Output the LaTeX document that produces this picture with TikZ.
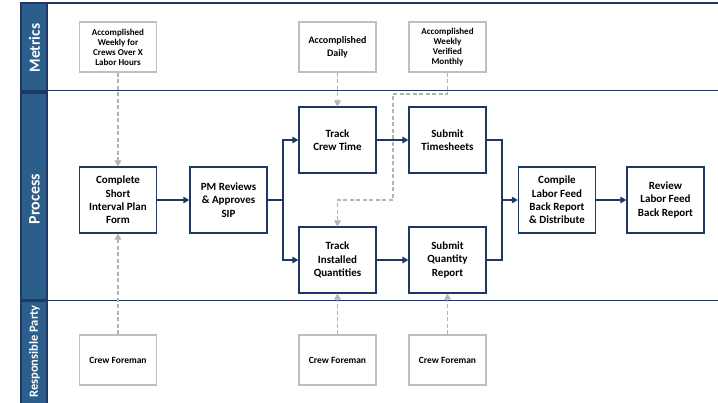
\documentclass[tikz,border=0pt]{standalone}
\usepackage{fontspec}
\setmainfont{Carlito}
\usetikzlibrary{arrows.meta}
\definecolor{navy}{HTML}{1F3864}
\definecolor{side}{HTML}{2B5E8A}
\definecolor{lgray}{HTML}{BFBFBF}
\definecolor{dgray}{HTML}{B4B4B4}
\tikzset{
  band/.style={draw=navy,line width=1.4pt},
  sidebar/.style={draw=navy,fill=side,line width=1.2pt},
  sidetext/.style={text=white,rotate=90,inner sep=0pt},
  metricbox/.style={draw=lgray,line width=1.4pt,fill=white,minimum width=77pt,minimum height=50pt,align=center,font=\bfseries\fontsize{9}{10}\selectfont,inner sep=1pt},
  procbox/.style={draw=navy,line width=1.3pt,fill=white,minimum width=77pt,minimum height=66pt,align=center,font=\bfseries\fontsize{11}{13.3}\selectfont,inner sep=1pt},
  partybox/.style={draw=lgray,line width=1.4pt,fill=white,minimum width=77pt,minimum height=50pt,align=center,font=\bfseries\fontsize{9.5}{11}\selectfont,inner sep=1pt},
  flow/.style={draw=navy,line width=1.4pt,-{Triangle[length=6pt,width=6.5pt]}},
  flowline/.style={draw=navy,line width=1.4pt},
  link/.style={draw=dgray,line width=1.4pt,dash pattern=on 4pt off 2.5pt,-{Triangle[length=6pt,width=7pt]}},
  linkline/.style={draw=dgray,line width=1.4pt,dash pattern=on 4pt off 2.5pt},
}
\begin{document}
\begin{tikzpicture}[x=1pt,y=-1pt]
\useasboundingbox (0,0) rectangle (718,402);
% sidebars
\node[sidebar,minimum width=26pt,minimum height=88pt,inner sep=0pt] (sbm) at (34,47) {};
\node[sidebar,minimum width=26pt,minimum height=207pt,inner sep=0pt] (sbp) at (34,196.5) {};
\node[sidebar,minimum width=26pt,minimum height=104pt,inner sep=0pt] (sbr) at (34,353) {};
\node[sidetext,font=\bfseries\fontsize{15.5}{17}\selectfont] (tm) at (34.5,48) {Metrics};
\node[sidetext,font=\bfseries\fontsize{16}{18}\selectfont] (tp) at (34.5,199) {Process};
\node[sidetext,font=\bfseries\fontsize{12.5}{14}\selectfont] (tr) at (34.5,351.5) {Responsible Party};
% band lines
\coordinate (l1a) at (21,3); \coordinate (l1b) at (718,3);
\coordinate (l2a) at (47,90.5); \coordinate (l2b) at (718,90.5);
\coordinate (l3a) at (21,300.5); \coordinate (l3b) at (718,300.5);
\draw[band] (l1a) -- (l1b);
\draw[band] (l2a) -- (l2b);
\draw[band] (l3a) -- (l3b);
% metrics
\node[metricbox] (m1) at (118,47) {Accomplished\\Weekly for\\Crews Over X\\Labor Hours};
\node[metricbox,font=\bfseries\fontsize{10}{13}\selectfont] (m2) at (337.5,47) {Accomplished\\Daily};
\node[metricbox] (m3) at (447.5,47) {Accomplished\\Weekly\\Verified\\Monthly};
% process
\node[procbox] (p1) at (118,200) {Complete\\Short\\Interval Plan\\Form};
\node[procbox] (p2) at (228.5,200) {PM Reviews\\\& Approves\\SIP};
\node[procbox] (p3) at (337.5,140) {Track\\Crew Time};
\node[procbox] (p4) at (447.5,140) {Submit\\Timesheets};
\node[procbox] (p5) at (337.5,260) {Track\\Installed\\Quantities};
\node[procbox] (p6) at (447.5,260) {Submit\\Quantity\\Report};
\node[procbox] (p7) at (557,200) {Compile\\Labor Feed\\Back Report\\\& Distribute};
\node[procbox] (p8) at (665.5,200) {Review\\Labor Feed\\Back Report};
% responsible
\node[partybox] (r1) at (118,360) {Crew Foreman};
\node[partybox] (r2) at (337.5,360) {Crew Foreman};
\node[partybox] (r3) at (447.5,360) {Crew Foreman};
% flow connectors
\coordinate (split) at (283,200);
\coordinate (merge) at (502,200);
\draw[flow] (p1) -- (p2);
\draw[flowline] (p2) -- (split);
\draw[flow] (split) |- (p3.west);
\draw[flow] (split) |- (p5.west);
\draw[flow] (p3) -- (p4);
\draw[flow] (p5) -- (p6);
\draw[flowline] (p4.east) -| (merge);
\draw[flowline] (p6.east) -| (merge);
\draw[flow] (merge) -- (p7.west);
\draw[flow] (p7) -- (p8);
% dashed links
\coordinate (k1) at (393,94);
\coordinate (k2) at (393,200);
\draw[link] (m1) -- (p1);
\draw[link] (m2) -- (p3);
\draw[link] (m3.south) |- (k1) -- (k2) -| (p5.north);
\draw[link] (r1) -- (p1);
\draw[link] (r2) -- (p5);
\draw[link] (r3) -- (p6);
\end{tikzpicture}
\end{document}
